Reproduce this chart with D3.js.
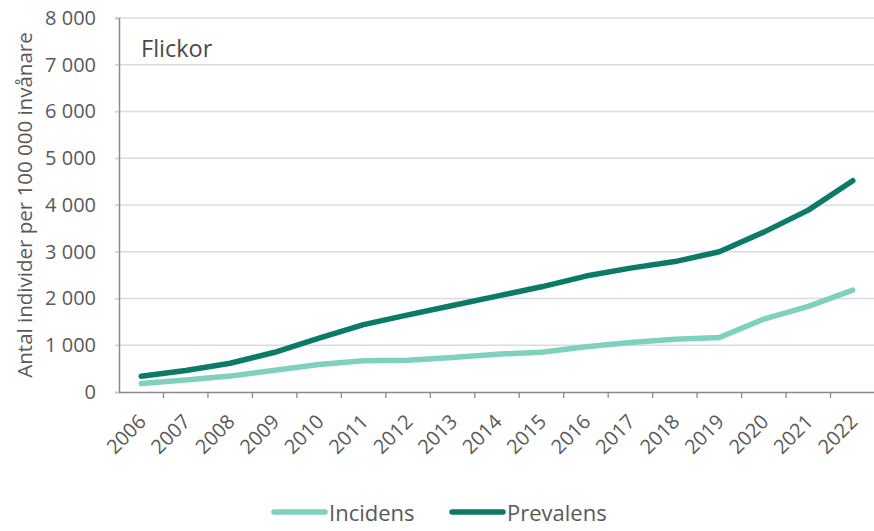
<!DOCTYPE html>
<html>
<head>
<meta charset="utf-8">
<script src="https://cdn.jsdelivr.net/npm/d3@7"></script>
<style>
  html, body { margin: 0; padding: 0; background: #fff; }
  svg { display: block; font-family: "Open Sans", sans-serif; }
</style>
</head>
<body>
<svg id="chart" width="874" height="531"></svg>
<script>
const years = ["2006","2007","2008","2009","2010","2011","2012","2013","2014","2015","2016","2017","2018","2019","2020","2021","2022"];
const incidens = [180, 255, 340, 465, 590, 670, 680, 740, 810, 850, 970, 1060, 1130, 1165, 1560, 1830, 2180];
const prevalens = [335, 460, 615, 850, 1150, 1440, 1650, 1850, 2050, 2250, 2480, 2650, 2790, 3000, 3420, 3890, 4520];
const yTicks = [0, 1000, 2000, 3000, 4000, 5000, 6000, 7000, 8000];
const seriesNames = ["Incidens", "Prevalens"];
const seriesColors = ["#7fd1bd", "#0c7a68"];
const panelTitle = "Flickor";
const yTitle = "Antal individer per 100 000 invånare";

(function () {
const svg = d3.select("#chart");
const mLeft = 119, mRight = 874, mTop = 18, mBottom = 392;

const x = d3.scaleBand().domain(years).range([mLeft, mRight + 1]).padding(0);
const y = d3.scaleLinear().domain([0, 8000]).range([mBottom, mTop]);
const fmt = v => d3.format(",")(v).replace(/,/g, " ");

// gridlines
svg.append("g").selectAll("line").data(yTicks.filter(d => d > 0)).join("line")
  .attr("x1", mLeft - 4).attr("x2", mRight)
  .attr("y1", d => y(d)).attr("y2", d => y(d))
  .attr("stroke", "#dcdcdc").attr("stroke-width", 1.3);

// y axis
const yAxis = svg.append("g").attr("transform", `translate(${mLeft},0)`)
  .call(d3.axisLeft(y).tickValues(yTicks).tickSize(4).tickPadding(19).tickFormat(fmt));
yAxis.select(".domain").attr("stroke", "#8a8a8a").attr("stroke-width", 1.5);
yAxis.selectAll(".tick line").attr("stroke", "#c8c8c8");
yAxis.selectAll(".tick text").attr("fill", "#595959").style("font-size", "20px").style("font-family", "Open Sans");

// x axis
const xAxis = svg.append("g").attr("transform", `translate(0,${mBottom})`)
  .call(d3.axisBottom(x).tickSize(0).tickFormat(""));
xAxis.select(".domain").attr("stroke", "#8a8a8a").attr("stroke-width", 1.5);
const bounds = years.map(d => x(d)).slice(1);
svg.append("g").selectAll("line").data(bounds).join("line")
  .attr("x1", d => d).attr("x2", d => d)
  .attr("y1", mBottom).attr("y2", mBottom + 6)
  .attr("stroke", "#8a8a8a").attr("stroke-width", 1.3);

svg.append("g").selectAll("text").data(years).join("text")
  .attr("transform", d => `translate(${x(d) + x.bandwidth() / 2 + 6},${mBottom + 31}) rotate(-45)`)
  .attr("text-anchor", "end")
  .attr("fill", "#595959")
  .style("font-size", "20px")
  .text(d => d);

// y title
svg.append("text")
  .attr("transform", `translate(32,205) rotate(-90)`)
  .attr("text-anchor", "middle")
  .attr("fill", "#595959")
  .style("font-size", "20.5px")
  .text(yTitle);

// panel title
svg.append("text")
  .attr("x", 141).attr("y", 57)
  .attr("fill", "#4a4a4a")
  .style("font-size", "23.5px")
  .text(panelTitle);

// lines
const line = d3.line()
  .x((d, i) => x(years[i]) + x.bandwidth() / 2)
  .y(d => y(d));

[incidens, prevalens].forEach((vals, i) => {
  svg.append("path")
    .datum(vals)
    .attr("d", line)
    .attr("fill", "none")
    .attr("stroke", seriesColors[i])
    .attr("stroke-width", 5.5)
    .attr("stroke-linecap", "round")
    .attr("stroke-linejoin", "round");
});

// legend
const legendItems = [
  { name: seriesNames[0], color: seriesColors[0], x1: 274, x2: 325, tx: 329 },
  { name: seriesNames[1], color: seriesColors[1], x1: 452, x2: 503, tx: 507 }
];
const lg = svg.append("g");
legendItems.forEach(it => {
  lg.append("line").attr("x1", it.x1).attr("x2", it.x2).attr("y1", 512).attr("y2", 512)
    .attr("stroke", it.color).attr("stroke-width", 5.5).attr("stroke-linecap", "round");
  lg.append("text").attr("x", it.tx).attr("y", 521).attr("fill", "#595959")
    .style("font-size", "22px").text(it.name);
});
})();
</script>
</body>
</html>
